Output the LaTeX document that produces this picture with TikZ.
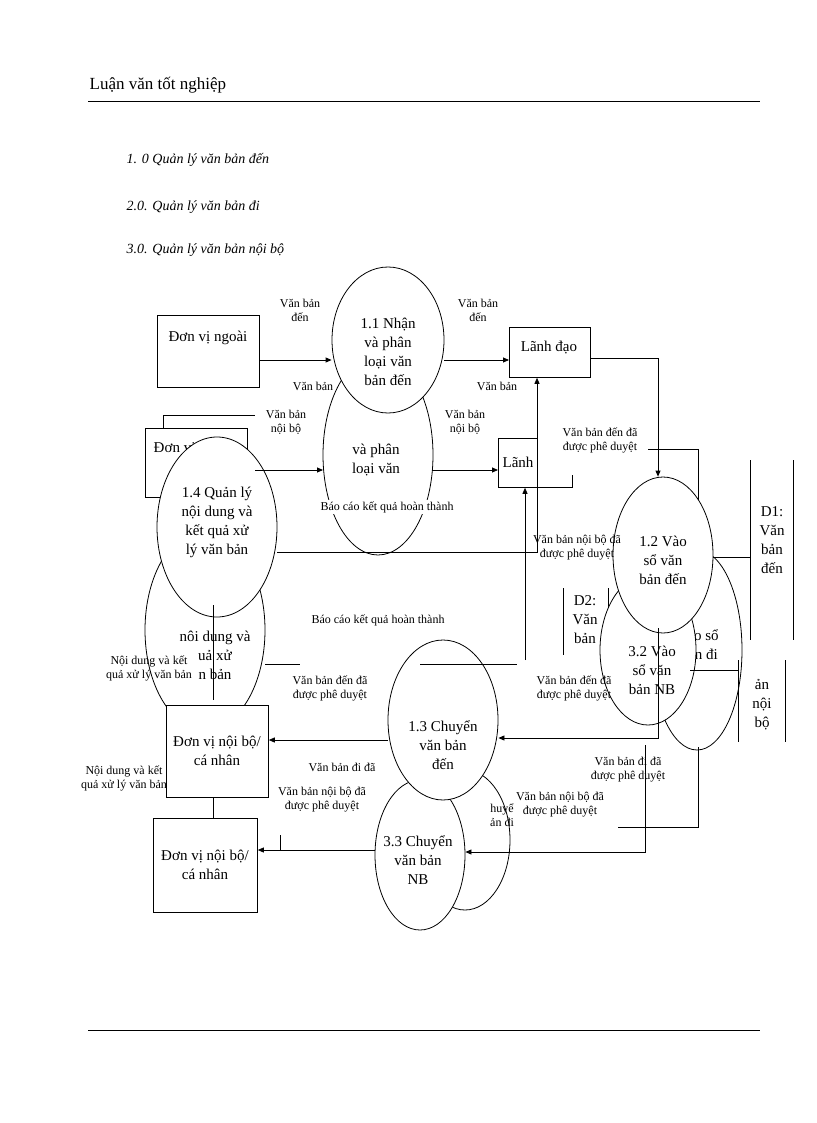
\documentclass[tikz,border=0pt]{standalone}
\usepackage{fontspec}
\setmainfont{Liberation Serif}
\usetikzlibrary{arrows.meta,shapes.geometric}
\begin{document}
\begin{tikzpicture}[x=1pt,y=-1pt,line width=0.8pt,
  lbl/.style={font=\fontsize{12}{14}\selectfont,align=center,inner sep=1pt},
  big/.style={font=\fontsize{15}{19}\selectfont,align=center},
  proc/.style={draw,ellipse,fill=white},
  ent/.style={draw,fill=white},
  arr/.style={-{Triangle[length=6pt,width=5pt]}}]
\useasboundingbox (0,0) rectangle (816,1123);
\node[anchor=west,font=\fontsize{17}{20}\selectfont] (hd) at (86,85) {Luận văn tốt nghiệp};
\draw (88,101) -- (760,101);
\draw (88,1030) -- (760,1030);
\node[anchor=west,font=\itshape\fontsize{14}{16}\selectfont] (l1) at (123,160) {1. 0 Quản lý văn bản đến};
\node[anchor=west,font=\itshape\fontsize{14}{16}\selectfont] (l2) at (123,207) {2.0. Quản lý văn bản đi};
\node[anchor=west,font=\itshape\fontsize{14}{16}\selectfont] (l3) at (123,250) {3.0. Quản lý văn bản nội bộ};

% ghost shapes
\draw (378,455) ellipse (55 and 100);
\node[big] (g21) at (376,460) {và phân\\loại văn};
\draw (205,630) ellipse (60 and 100);
\node[big] (g3) at (215,655) {nôi dung và\\uả xử\\n bản};
\draw (697,650) ellipse (45 and 100);
\node[big] (g32) at (703,645) {ào sổ\\ản đi};
\draw (465,840) ellipse (45 and 70);
\node[lbl] (g33) at (502,815) {huyể\\ản đi};
% data stores
\draw (563,588) -- (563,655) (608,588) -- (608,655);
\node[big] (d2) at (585,620) {D2:\\Văn\\bản};
\draw (738,660) -- (738,742) (785,660) -- (785,742);
\node[big] (d3) at (762,705) {ản\\nội\\bộ};
\draw (750,460) -- (750,640) (793,460) -- (793,640);
\node[big] (d1) at (772,540) {D1:\\Văn\\bản\\đến};

% entities
\node[ent,minimum width=102pt,minimum height=72pt,anchor=north west] (dvn) at (157,315) {};
\node[big] at (208,338) {Đơn vị ngoài};
\draw (163,428) -- (163,415) -- (255,415);
\node[ent,minimum width=102pt,minimum height=69pt,anchor=north west] (dnb0) at (145,428) {};
\node[big,anchor=west] at (150,449) {Đơn vị nội bộ};
\node[ent,minimum width=81pt,minimum height=50pt,anchor=north west] (ld) at (509,327) {};
\node[big] at (549,348) {Lãnh đạo};
\node[ent,minimum width=39pt,minimum height=49pt,anchor=north west] (ld2) at (498,438) {};
\node[big] at (518,462) {Lãnh};
\node[ent,minimum width=102pt,minimum height=92pt,anchor=north west] (dv1) at (166,705) {};
\node[big] at (217,751) {Đơn vị nội bộ/\\cá nhân};
\node[ent,minimum width=104pt,minimum height=94pt,anchor=north west] (dv2) at (153,818) {};
\node[big] at (205,865) {Đơn vị nội bộ/\\cá nhân};

% processes
\node[proc,minimum width=112pt,minimum height=146pt,inner sep=0pt] (p11) at (388,340) {};
\node[big] at (388,352) {1.1 Nhận\\và phân\\loại văn\\bản đến};
\node[proc,minimum width=120pt,minimum height=180pt,inner sep=0pt] (p14) at (217,527) {};
\node[big] at (217,522) {1.4 Quản lý\\nội dung và\\kết quả xử\\lý văn bản};
\draw[fill=white] (648,650) ellipse (48 and 75);
\node[big] (p32) at (652,670) {3.2 Vào\\sổ văn\\bản NB};
\node[proc,minimum width=100pt,minimum height=156pt,inner sep=0pt] (p12) at (663,555) {};
\node[big] at (663,560) {1.2 Vào\\sổ văn\\bản đến};
\node[proc,minimum width=90pt,minimum height=150pt,inner sep=0pt] (p33) at (420,855) {};
\node[big] at (418,860) {3.3 Chuyển\\văn bản\\NB};
\node[proc,minimum width=110pt,minimum height=160pt,inner sep=0pt] (p13) at (443,720) {};
\node[big] at (443,745) {1.3 Chuyển\\văn bản\\đến};

% connectors
\draw[arr] (dvn.east|-0,360) -- (p11.west|-0,360);
\draw[arr] (p11.east|-0,360) -- (ld.west|-0,360);
\draw[arr] (255,470) -- (323,470);
\draw[arr] (432,470) -- (ld2.west|-0,470);
\draw[arr] (p14.east|-0,552) -- (537,552) -- (ld.south-|537,0);
\draw[arr] (525,660) -- (ld2.south-|525,0);
\draw[arr] (ld.east|-0,358) -- (658,358) -- (p12.north-|658,0);
\draw (648,449) -- (698,449) -- (698,500);
\draw (ld2.east|-0,487) -- (572,487) -- (572,475);
\draw (p12.east|-0,557) -- (750,557);
\draw (690,670) -- (738,670);
\draw (265,664) -- (300,664) (420,664) -- (517,664);
\draw[arr] (658,628) -- (658,738) -- (p13.east|-0,738);
\draw[arr] (p13.west|-0,740) -- (dv1.east|-0,740);
\draw (618,827) -- (698,827) -- (698,747);
\draw[arr] (645,745) -- (645,852) -- (p33.east|-0,852);
\draw[arr] (p33.west|-0,850) -- (dv2.east|-0,850);
\draw (213,797) -- (213,818);
\draw (280,850) -- (280,835);
\draw (213,605) -- (213,700);

% labels
\node[lbl] at (300,310) {Văn bản\\đến};
\node[lbl] at (478,310) {Văn bản\\đến};
\node[lbl] at (286,422) {Văn bản\\nội bộ};
\node[lbl] at (465,422) {Văn bản\\nội bộ};
\node[lbl] at (313,386) {Văn bản};
\node[lbl] at (497,386) {Văn bản};
\node[lbl,fill=white] at (387,507) {Báo cáo kết quả hoàn thành};
\node[lbl] at (378,620) {Báo cáo kết quả hoàn thành};
\node[lbl] at (600,440) {Văn bản đến đã\\được phê duyệt};
\node[lbl] at (577,548) {Văn bản nội bộ đã\\được phê duyệt};
\node[lbl] at (574,688) {Văn bản đến đã\\được phê duyệt};
\node[lbl] at (330,688) {Văn bản đến đã\\được phê duyệt};
\node[lbl] at (149,668) {Nội dung và kết\\quả xử lý văn bản};
\node[lbl] at (124,778) {Nội dung và kết\\quả xử lý văn bản};
\node[lbl] at (342,767) {Văn bản đi đã};
\node[lbl,fill=white] at (322,800) {Văn bản nội bộ đã\\được phê duyệt};
\node[lbl] at (628,770) {Văn bản đi đã\\được phê duyệt};
\node[lbl,fill=white] at (560,805) {Văn bản nội bộ đã\\được phê duyệt};
\end{tikzpicture}
\end{document}
